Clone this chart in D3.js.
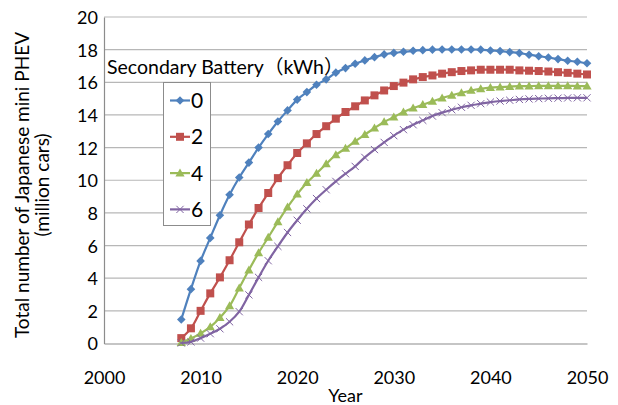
<!DOCTYPE html>
<html>
<head>
<meta charset="utf-8">
<script src="https://cdn.jsdelivr.net/npm/d3@7"></script>
<style>
  body { margin: 0; background: #fff; }
  svg text { font-family: Lato, "Noto Sans CJK JP", sans-serif; fill: #000; }
</style>
</head>
<body>
<svg id="chart" width="618" height="405"></svg>
<script>
// Years on the horizontal axis
const years = [2008, 2009, 2010, 2011, 2012, 2013, 2014, 2015, 2016, 2017,
  2018, 2019, 2020, 2021, 2022, 2023, 2024, 2025, 2026, 2027,
  2028, 2029, 2030, 2031, 2032, 2033, 2034, 2035, 2036, 2037,
  2038, 2039, 2040, 2041, 2042, 2043, 2044, 2045, 2046, 2047,
  2048, 2049, 2050];

// Total number of mini PHEVs (million cars) per secondary battery size
const battery0kWh = [1.47, 3.33, 5.06, 6.47, 7.86, 9.11, 10.17, 11.08, 12.0, 12.83,
  13.6, 14.28, 14.94, 15.4, 15.85, 16.18, 16.59, 16.87, 17.14, 17.34,
  17.54, 17.71, 17.8, 17.87, 17.93, 17.97, 18.0, 18.01, 18.01, 18.01,
  18.01, 18.0, 17.95, 17.91, 17.85, 17.79, 17.69, 17.6, 17.52, 17.42,
  17.32, 17.26, 17.17];
const battery2kWh = [0.33, 0.93, 2.0, 3.07, 4.05, 5.1, 6.2, 7.29, 8.3, 9.22,
  10.13, 10.92, 11.67, 12.26, 12.83, 13.31, 13.77, 14.18, 14.53, 14.89,
  15.2, 15.5, 15.77, 15.98, 16.18, 16.32, 16.42, 16.53, 16.62, 16.69,
  16.73, 16.77, 16.77, 16.77, 16.77, 16.73, 16.71, 16.69, 16.66, 16.62,
  16.58, 16.53, 16.48];
const battery4kWh = [0.05, 0.3, 0.62, 1.02, 1.58, 2.3, 3.4, 4.5, 5.55, 6.5,
  7.45, 8.35, 9.15, 9.85, 10.42, 11.0, 11.55, 11.95, 12.39, 12.79,
  13.2, 13.57, 13.87, 14.18, 14.42, 14.63, 14.83, 15.03, 15.2, 15.36,
  15.5, 15.6, 15.67, 15.71, 15.74, 15.76, 15.77, 15.78, 15.78, 15.78,
  15.78, 15.77, 15.77];
const battery6kWh = [0.03, 0.1, 0.33, 0.6, 0.9, 1.33, 1.95, 2.98, 4.05, 5.07,
  5.95, 6.8, 7.55, 8.25, 8.88, 9.42, 9.93, 10.4, 10.85, 11.4,
  11.88, 12.32, 12.73, 13.1, 13.4, 13.67, 13.93, 14.14, 14.32, 14.47,
  14.59, 14.69, 14.79, 14.85, 14.9, 14.95, 14.98, 15.0, 15.02, 15.03,
  15.04, 15.05, 15.05];

const seriesNames = ["0", "2", "4", "6"];
const seriesValues = [battery0kWh, battery2kWh, battery4kWh, battery6kWh];
const seriesColors = ["#4F81BD", "#C0504D", "#9BBB59", "#8064A2"];
const seriesMarkers = ["diamond", "square", "triangle", "times"];

const xTickValues = [2000, 2010, 2020, 2030, 2040, 2050];
const yTickValues = [0, 2, 4, 6, 8, 10, 12, 14, 16, 18, 20];

const legendTitle = "Secondary Battery（kWh）";
const xAxisTitle = "Year";
const yAxisTitleLines = ["Total number of Japanese mini PHEV", "(million cars)"];

const svg = d3.select("#chart");
const plot = { left: 104, right: 587, top: 17, bottom: 343.5 };

const x = d3.scaleLinear().domain([2000, 2050]).range([plot.left, plot.right]);
const y = d3.scaleLinear().domain([0, 20]).range([plot.bottom, plot.top]);

// Horizontal gridlines
svg.append("g")
  .selectAll("line")
  .data(yTickValues.filter(v => v > 0))
  .join("line")
  .attr("x1", plot.left).attr("x2", plot.right)
  .attr("y1", d => y(d)).attr("y2", d => y(d))
  .attr("stroke", "#b7b7b7").attr("stroke-width", 1.2);

// Axes: lines and tick labels
const yAxis = svg.append("g")
  .attr("transform", `translate(${plot.left},0)`)
  .call(d3.axisLeft(y).tickValues(yTickValues).tickSize(0).tickFormat(d3.format("d")));
yAxis.select(".domain").attr("stroke", "#8c8c8c").attr("stroke-width", 1.2);
yAxis.selectAll("text")
  .attr("x", -6).attr("dy", "0.36em")
  .style("font-size", "18px");

const xAxis = svg.append("g")
  .attr("transform", `translate(0,${plot.bottom})`)
  .call(d3.axisBottom(x).tickValues(xTickValues).tickSize(0).tickFormat(d3.format("d")));
xAxis.select(".domain").attr("stroke", "#8c8c8c").attr("stroke-width", 1.2);
xAxis.selectAll("text")
  .attr("y", 34).attr("dy", "0.36em")
  .style("font-size", "18px");

// Axis titles
svg.append("text")
  .attr("x", x(2025)).attr("y", 396).attr("dy", "0.36em")
  .attr("text-anchor", "middle")
  .style("font-size", "18px")
  .text(xAxisTitle);

const yTitle = svg.append("text")
  .attr("transform", "translate(22,185) rotate(-90)")
  .attr("text-anchor", "middle")
  .style("font-size", "19px");
yTitle.selectAll("tspan")
  .data(yAxisTitleLines)
  .join("tspan")
  .attr("x", 0)
  .attr("y", (d, i) => i * 20)
  .attr("dy", "0.36em")
  .text(d => d);

// Marker shapes
function markerPath(kind) {
  if (kind === "diamond") return "M0,-4.3L4.3,0L0,4.3L-4.3,0Z";
  if (kind === "square") return "M-4,-4H4V4H-4Z";
  if (kind === "triangle") return "M0,-4.6L4.6,3.4H-4.6Z";
  return "M-3.6,-3.6L3.6,3.6M-3.6,3.6L3.6,-3.6";
}
function styleMarker(sel, kind, color) {
  if (kind === "times") {
    sel.attr("fill", "none").attr("stroke", color).attr("stroke-width", 1);
  } else {
    sel.attr("fill", color).attr("stroke", "none");
  }
}

const line = d3.line()
  .x(d => x(d.year))
  .y(d => y(d.value))
  .curve(d3.curveCatmullRom.alpha(0.5));

seriesValues.forEach((values, si) => {
  const pts = years.map((yr, i) => ({ year: yr, value: values[i] }));
  const g = svg.append("g");
  g.append("path")
    .attr("d", line(pts))
    .attr("fill", "none")
    .attr("stroke", seriesColors[si])
    .attr("stroke-width", 2.2)
    .attr("stroke-linejoin", "round");
  g.selectAll("path.marker")
    .data(pts)
    .join("path")
    .attr("class", "marker")
    .attr("transform", d => `translate(${x(d.year)},${y(d.value)})`)
    .attr("d", markerPath(seriesMarkers[si]))
    .call(styleMarker, seriesMarkers[si], seriesColors[si]);
});

// Legend
const legend = svg.append("g");
legend.append("rect")
  .attr("x", 163.5).attr("y", 82.5).attr("width", 47).attr("height", 143)
  .attr("fill", "#fff").attr("stroke", "#8c8c8c").attr("stroke-width", 1);
const legendRows = legend.selectAll("g.row")
  .data(seriesNames)
  .join("g")
  .attr("class", "row")
  .attr("transform", (d, i) => `translate(0,${100.5 + i * 36.3})`);
legendRows.append("line")
  .attr("x1", 170).attr("x2", 190)
  .attr("stroke", (d, i) => seriesColors[i]).attr("stroke-width", 2.2);
legendRows.append("path")
  .attr("transform", "translate(180,0)")
  .attr("d", (d, i) => markerPath(seriesMarkers[i]))
  .each(function (d, i) { styleMarker(d3.select(this), seriesMarkers[i], seriesColors[i]); });
legendRows.append("text")
  .attr("x", 191).attr("dy", "0.36em")
  .style("font-size", "21px")
  .text(d => d);

svg.append("text")
  .attr("x", 107).attr("y", 67).attr("dy", "0.36em")
  .style("font-size", "19.5px")
  .text(legendTitle);
</script>
</body>
</html>
